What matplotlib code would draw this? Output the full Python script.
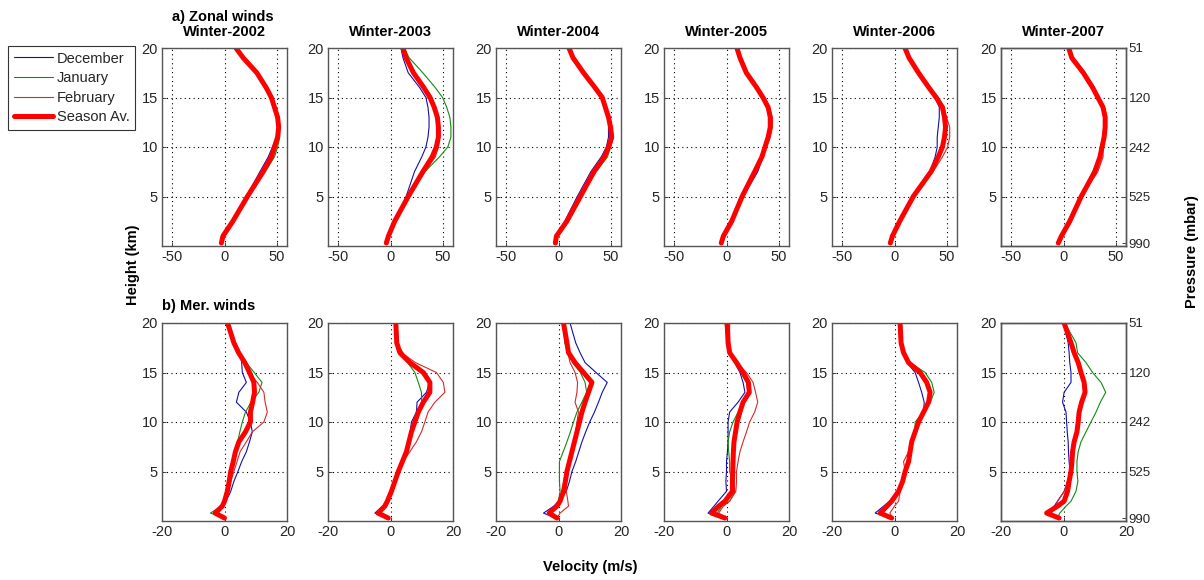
import matplotlib
matplotlib.use("Agg")
import matplotlib.pyplot as plt
import numpy as np

plt.rcParams['font.family'] = ['Liberation Sans', 'DejaVu Sans']

years = ["2002", "2003", "2004", "2005", "2006", "2007"]
series_labels = ["December", "January", "February", "Season Av."]

# Heights (km) for zonal profiles
z_zonal = [0.3, 1, 2.5, 5, 7.5, 9, 10, 11, 12, 13, 14, 15, 16, 17.5, 19, 20]

zonal_dec = [
    [-3, -1.5, 8, 21, 34, 42, 46, 50, 51, 51, 48, 45, 40, 31, 18, 11],
    [-4, -2, 5, 15, 23, 30, 34, 36, 37, 37, 36, 34, 28, 17, 12, 10],
    [-3, -2, 6, 18, 31, 41, 46, 48, 48, 48, 45, 42, 35, 24, 14, 10],
    [-5, -3, 5, 16, 30, 35, 37, 39, 41, 42, 40, 35, 29, 19, 13, 10],
    [-4, -2, 5, 18, 34, 39, 41, 41, 42, 43, 43, 39, 33, 23, 14, 10],
    [-5, -2, 6, 17, 30, 35, 37, 39, 40, 40, 39, 33, 28, 19, 8, 5],
]
zonal_jan = [
    [-3, -1.5, 8, 23, 39, 48, 51, 53, 53, 52, 49, 46, 40, 31, 18, 11],
    [-4, -2, 3, 17, 33, 47, 55, 58, 58, 57, 54, 50, 43, 31, 18, 13],
    [-3, -2, 8, 22, 36, 47, 50, 51, 50, 48, 45, 42, 35, 24, 14, 10],
    [-5, -3, 5, 15, 26, 33, 37, 40, 42, 42, 39, 35, 29, 19, 13, 10],
    [-4, -2, 5, 18, 35, 42, 46, 48, 50, 49, 48, 42, 34, 23, 14, 10],
    [-5, -2, 6, 17, 28, 34, 37, 39, 40, 40, 38, 33, 28, 19, 8, 5],
]
zonal_feb = [
    [-3, -1.5, 8, 22, 37, 46, 49, 51, 51, 51, 48, 45, 40, 31, 18, 11],
    [-4, -2, 4, 18, 33, 43, 46, 47, 47, 46, 42, 37, 31, 22, 16, 13],
    [-3, -2, 8, 22, 35, 45, 50, 53, 51, 48, 45, 42, 35, 24, 14, 10],
    [-5, -3, 5, 14, 26, 34, 38, 42, 44, 44, 41, 35, 29, 19, 13, 10],
    [-4, -2, 5, 18, 37, 46, 51, 53, 53, 50, 47, 40, 33, 23, 14, 10],
    [-5, -2, 6, 17, 33, 38, 38, 39, 40, 40, 38, 33, 28, 19, 8, 5],
]
zonal_avg = [
    [-3, -1.5, 8, 22, 37, 45, 48, 51, 52, 51, 48, 45, 40, 31, 18, 11],
    [-4, -2, 4, 17, 31, 40, 44, 46, 46, 45, 42, 38, 32, 22, 15, 12],
    [-3, -2, 8, 21, 34, 44, 48, 51, 50, 48, 45, 42, 35, 24, 14, 10],
    [-5, -3, 5, 15, 27, 34, 37, 40, 42, 42, 40, 35, 29, 19, 13, 10],
    [-4, -2, 5, 18, 35, 42, 46, 48, 49, 48, 46, 40, 33, 23, 14, 10],
    [-5, -2, 6, 17, 30, 35, 37, 39, 40, 40, 38, 33, 28, 19, 8, 5],
]

# Heights (km) for meridional profiles
z_mer = [0.3, 0.8, 1.5, 2, 3, 4, 5, 6, 7, 8, 9, 10, 11, 12, 13, 14, 15, 16, 17, 18, 20]

mer_dec = [
    [0, -3.4, -1, 0.5, 2, 3, 4.3, 5.5, 7, 8, 8.9, 8.3, 7, 3.8, 4.6, 7, 5.7, 5.5, 5, 3, 1.4],
    [-0.7, -5, -2.5, -1.5, 0.3, 1.4, 2.5, 3.8, 5, 5.8, 6.3, 6.7, 8.3, 8.5, 11.5, 12.5, 10, 6, 3, 2, 1.5],
    [-1, -4.8, -1.5, 0, 2.5, 3.5, 4.3, 5.5, 6.5, 7.5, 8.7, 10, 11.5, 12.8, 14, 15.6, 12, 8.5, 6.9, 5.5, 3.7],
    [-1, -5.9, -4, -2.7, 0, -0.2, 0, 0, 0.3, 0.5, 0.5, 0.5, 1, 3.7, 5.9, 5.3, 4.3, 2.6, 1, 0.5, 0.2],
    [-1, -6.2, -3.5, -1.5, 1, 2.8, 3.6, 4.8, 5, 5.5, 6.6, 7.7, 9.3, 9.5, 8.7, 7.7, 6.6, 4, 2.9, 2.2, 1.8],
    [-1.5, -5, -3, -1.9, 0.2, 1.3, 2.1, 1.8, 1.6, 1.5, 1.2, 1, 0.8, -0.3, 0.2, 2.4, 2.4, 2, 1.8, 1.5, 0],
]
mer_jan = [
    [0, -4.5, -1, -0.3, 0.6, 1.2, 1.7, 2.5, 3.5, 4.2, 4.9, 5.7, 6.7, 8.5, 11, 12, 9.5, 7, 4.6, 3, 1.3],
    [-0.5, -4, -1.5, -0.8, 0.3, 1.4, 2.5, 3.8, 5, 5.9, 6.7, 7.3, 8.3, 10, 9.9, 8.9, 7.8, 5.5, 4, 2, 1.7],
    [-0.5, -3.5, -1, 0, 0.5, 0.3, 0.3, 0.3, 1.5, 2.7, 3.8, 4.8, 5.9, 7.5, 9, 8.5, 7, 4.5, 3, 2, 1.6],
    [-0.3, -3, -1.5, 1, 2.8, 2, 1, 1, 0.7, 0.5, 1, 2.1, 3.7, 5.3, 6.9, 6.4, 4.5, 3.2, 1.5, 0.5, -0.5],
    [-0.9, -4, -2, -0.5, 1.3, 2.6, 3.4, 4.5, 5, 5.5, 6.6, 6.6, 9.3, 11.5, 12.7, 11.9, 9.8, 5, 3, 2, 1.5],
    [-1.9, -1.2, 0.8, 2.4, 4, 4.6, 4.3, 4.3, 4.7, 5.6, 7.2, 8.8, 10.4, 11.8, 13.5, 12, 9.3, 7.2, 4.5, 4, 0.4],
]
mer_feb = [
    [0, -2, -0.5, 0.3, 1.3, 2, 3, 4, 5, 7, 8.9, 12.6, 13.7, 13, 12.6, 10.5, 7.8, 6.5, 5, 3, 1],
    [-0.5, -3.5, -1.5, -0.8, 0.3, 1.4, 2.5, 4, 6.2, 8.3, 9.9, 11, 12, 14.2, 17.4, 16.9, 14.7, 8, 3.5, 2, 1.7],
    [-0.5, 0.5, 3.2, 3, 2.5, 2.5, 2.7, 3, 4.2, 4.8, 5.5, 5.9, 6.4, 5.3, 5.9, 6.1, 5.3, 3.7, 3, 2.5, 1.6],
    [0, -2.5, -1, 1, 3, 3.2, 3.2, 3.7, 4.3, 5.3, 6.4, 7.4, 9, 10, 9.3, 8.5, 6.4, 3.2, 1.5, 1, 1],
    [-0.5, -1.5, 0, 1.3, 1.8, 2.5, 3.4, 2.9, 4.5, 5.5, 6.6, 7.7, 9.3, 11, 11.4, 10.3, 8.2, 4.5, 2.7, 1.8, 1.2],
    [-1.4, -4.5, -2.5, -1.9, 0.3, 1.2, 2.4, 2.7, 2.9, 3.4, 4.3, 4.7, 5, 5.8, 6.9, 6.6, 5.6, 4.7, 3.4, 2.4, 0.2],
]
mer_avg = [
    [0, -3, -0.7, 0, 0.9, 1.5, 2, 2.8, 3.5, 4.6, 6.7, 8.3, 8.3, 9, 9.6, 9.4, 8, 6.5, 4.5, 3, 1],
    [-0.7, -4, -1.8, -1, 0.3, 1.4, 2.5, 3.8, 5.1, 5.9, 6.7, 7.8, 8.9, 10.5, 12.6, 12.6, 10.5, 6.2, 3, 2, 1.7],
    [-0.5, -3, -0.5, 0.5, 1.6, 2.2, 2.7, 3.5, 4.3, 5.1, 5.9, 6.7, 7.5, 8.5, 9.6, 10.7, 8, 5.3, 3.2, 2.7, 1.6],
    [-0.5, -4.8, -2.5, -0.5, 1.9, 1.9, 2, 2.1, 2.2, 2.4, 2.9, 3.4, 4.3, 5.3, 7.3, 7, 5.3, 3.2, 1, 0.5, 0.2],
    [-0.9, -4.6, -2.4, -0.9, 1.3, 2.6, 3.4, 4.5, 5, 5.5, 6.6, 7.7, 9.3, 10.9, 11.4, 10.3, 8.2, 4.5, 2.9, 2.1, 1.8],
    [-1.4, -5.4, -1.9, 0.2, 1.3, 1.8, 2.4, 2.7, 2.9, 3.4, 4.3, 4.7, 5, 5.8, 6.9, 6.6, 5.6, 4.7, 3.4, 2.4, 0.2],
]

pressure_heights = [0.3, 5, 10, 15, 20]
pressure_labels = ["990", "525", "242", "120", "51"]

colors = ["#1010b0", "#138a13", "#d42a2a", "#ff0000"]
widths = [0.8, 0.8, 0.8, 3.6]

fig = plt.figure(figsize=(12.04, 5.80), dpi=100)
W, H = 1204.0, 580.0
lefts = [162, 328, 496, 664, 832, 1001]
ax_w = 125
rows = [(48, 246), (323, 521)]

tick_color = "#262626"
spine_color = "#555555"


def style_axes(ax, xlim, xticks):
    ax.set_xlim(*xlim)
    ax.set_ylim(0, 20)
    ax.set_xticks(xticks)
    ax.set_xticklabels([str(t) for t in xticks])
    ax.set_yticks([5, 10, 15, 20])
    ax.set_yticklabels(["5", "10", "15", "20"])
    ax.tick_params(direction="in", length=3, width=0.6, labelsize=10.5,
                   colors=tick_color, pad=3, top=False, right=False)
    ax.grid(True, linestyle=(0, (1, 3)), color="black", linewidth=0.8)
    for s in ax.spines.values():
        s.set_color(spine_color)
        s.set_linewidth(1.0)


lines_for_legend = None
for r, (data_sets, z, xlim, xticks) in enumerate([
        ((zonal_dec, zonal_jan, zonal_feb, zonal_avg), z_zonal, (-60, 60), [-50, 0, 50]),
        ((mer_dec, mer_jan, mer_feb, mer_avg), z_mer, (-20, 20), [-20, 0, 20])]):
    top_px, bot_px = rows[r]
    for i, yr in enumerate(years):
        ax = fig.add_axes([lefts[i] / W, 1 - bot_px / H, ax_w / W, (bot_px - top_px) / H])
        handles = []
        for k in range(4):
            h, = ax.plot(data_sets[k][i], z, color=colors[k], lw=widths[k],
                         solid_joinstyle="round", solid_capstyle="round",
                         label=series_labels[k])
            handles.append(h)
        if lines_for_legend is None:
            lines_for_legend = handles
        style_axes(ax, xlim, xticks)
        if r == 0:
            if i == 0:
                ax.set_title("a) Zonal winds \nWinter-" + yr, fontsize=10.5,
                             fontweight="bold", pad=9, linespacing=1.0)
            else:
                ax.set_title("Winter-" + yr, fontsize=10.5, fontweight="bold", pad=9)
        else:
            if i == 0:
                ax.set_title("b) Mer. winds", fontsize=10.5, fontweight="bold",
                             loc="left", pad=9)
        if i == 5:
            ax2 = ax.twinx()
            ax2.set_ylim(0, 20)
            ax2.set_yticks(pressure_heights)
            ax2.set_yticklabels(pressure_labels)
            ax2.tick_params(direction="in", length=3, width=0.6, labelsize=9.5,
                            colors=tick_color, pad=2)
            for s in ax2.spines.values():
                s.set_color(spine_color)
                s.set_linewidth(1.0)

leg = fig.legend(lines_for_legend, series_labels, loc="upper left",
                 bbox_to_anchor=(8 / W, 1 - 46 / H), fontsize=10.5,
                 frameon=True, fancybox=False, edgecolor="black",
                 handlelength=2.7, handletextpad=0.25, labelspacing=0.38,
                 borderpad=0.38, borderaxespad=0)
leg.get_frame().set_linewidth(0.8)
for t in leg.get_texts():
    t.set_color(tick_color)

fig.text(133 / W, 1 - 265 / H, "Height (km)", rotation=90, ha="center", va="center",
         fontsize=10.5, fontweight="bold")
fig.text(1192 / W, 1 - 252 / H, "Pressure (mbar)", rotation=90, ha="center",
         va="center", fontsize=10.5, fontweight="bold")
fig.text(590 / W, 1 - 567 / H, "Velocity (m/s)", ha="center", va="center",
         fontsize=10.5, fontweight="bold")

fig.savefig("out.png", dpi=100)
